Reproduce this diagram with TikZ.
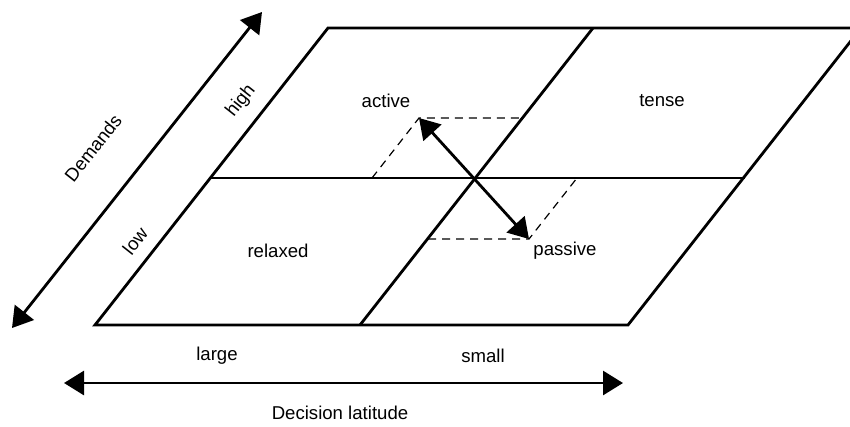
\documentclass[tikz,border=0pt]{standalone}
\usepackage{fontspec}
\setmainfont{Liberation Sans}
\usetikzlibrary{arrows.meta}

\tikzset{
  frame/.style={line width=2.8pt, line join=miter},
  guide/.style={line width=1.2pt, dash pattern=on 8pt off 6pt},
  bigarrow/.style={line width=2.8pt, {Triangle[length=20pt,width=24pt]}-{Triangle[length=20pt,width=24pt]}},
  lab/.style={font=\fontsize{18.6}{20}\selectfont, inner sep=0pt}
}

\begin{document}
\begin{tikzpicture}[x=1pt,y=-1pt]
   \useasboundingbox (0,0) rectangle (850,426);
   % corners of the plane
   \coordinate (bl) at (95,325);
   \coordinate (br) at (628,325);
   \coordinate (tr) at (861,28);
   \coordinate (tl) at (328,28);
   \coordinate (ml) at (211,178);
   \coordinate (mr) at (745,178);
   \coordinate (mb) at (360,325);
   \coordinate (mt) at (593,28);
   \coordinate (c) at (476,178);
   \begin{scope}
   \clip (0,0) rectangle (850,426);
   \draw[frame] (bl) -- (br) -- (tr) -- (tl) -- cycle;
   \end{scope}
   \draw[frame] (ml) -- (mr);
   \draw[frame] (mb) -- (mt);
   % dashed helpers
   \coordinate (a) at (419,118);
   \coordinate (p) at (529,239);
   \draw[guide] (372,178) -- (a) -- (523,118);
   \draw[guide] (428,239) -- (p) -- (577,178);
   \draw[bigarrow] (a) -- (p);
   % quadrants
   \node[lab] (active) at (386,101) {active};
   \node[lab] (tense) at (662,101) {tense};
   \node[lab] (relaxed) at (278,251) {relaxed};
   \node[lab] (passive) at (565,251) {passive};
   % demands axis
   \coordinate (d0) at (12,328);
   \coordinate (d1) at (262,12);
   \draw[bigarrow] (d0) -- (d1);
   \node[lab, rotate=51.7] (dem) at (93,148) {Demands};
   \node[lab, rotate=51.7] (high) at (241,101) {high};
   \node[lab, rotate=51.7] (low) at (135,241) {low};
   % decision axis
   \coordinate (h0) at (64,383);
   \coordinate (h1) at (623,383);
   \draw[bigarrow] (h0) -- (h1);
   \node[lab] (large) at (217,356) {large};
   \node[lab] (small) at (483,356) {small};
   \node[lab] (dec) at (340,413) {Decision latitude};
\end{tikzpicture}
\end{document}
